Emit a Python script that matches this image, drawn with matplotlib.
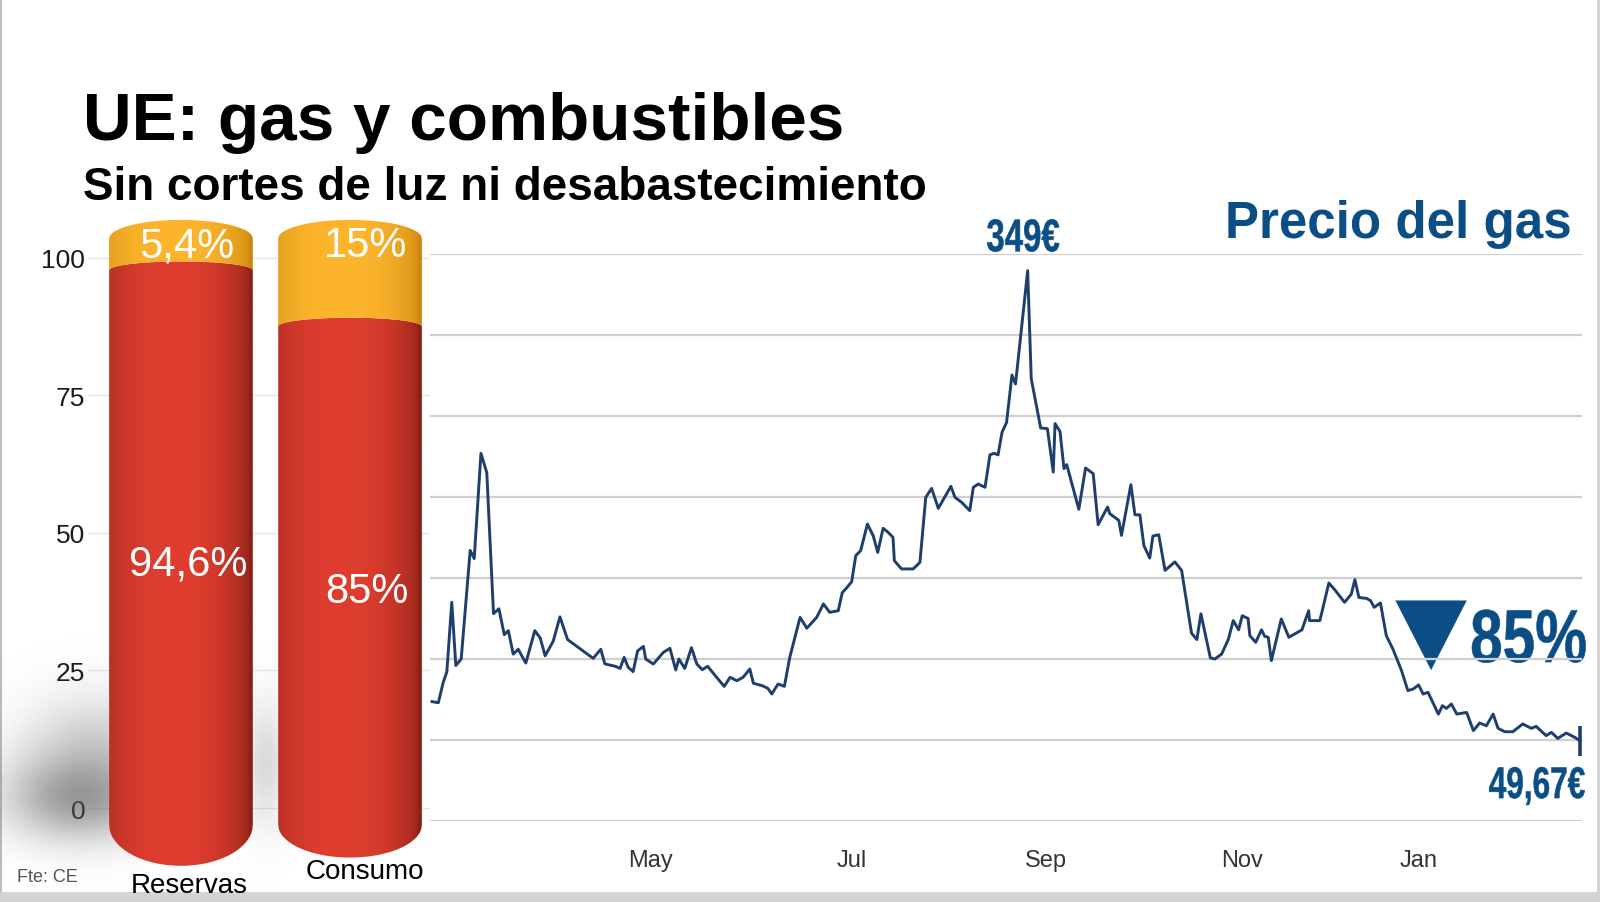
import numpy as np
import matplotlib
matplotlib.use('Agg')
import matplotlib.pyplot as plt
from matplotlib.patches import Polygon, Rectangle, PathPatch
from matplotlib.textpath import TextPath
from matplotlib.font_manager import FontProperties
from matplotlib.transforms import Affine2D, ScaledTranslation

# ── datos ────────────────────────────────────────────────────────────────
categorias = ['Reservas', 'Consumo']
parte_roja = [94.6, 85]
parte_naranja = [5.4, 15]
ticks_izq = [0, 25, 50, 75, 100]

# precio del gas (TTF, €/MWh), eje x en días de cotización
dia = [0, 1.4, 2.5, 3.3, 4.4, 5.3, 6.5, 8.5, 9.4, 10.9,
       12.2, 13.7, 14.9, 16.1, 17.0, 18.1, 19.2, 20.9, 22.9, 24.1,
       25.2, 27.0, 28.5, 30.2, 35.9, 37.6, 38.5, 40.8, 41.9, 42.8,
       43.7, 44.8, 45.8, 47.1, 47.6, 49.3, 51.5, 53.0, 54.3, 55.0,
       56.3, 57.8, 59.0, 60.2, 61.4, 63.4, 65.1, 66.4, 67.9, 69.3,
       70.8, 71.6, 73.6, 74.8, 75.7, 77.1, 78.5, 79.7, 82.0, 83.5,
       85.7, 87.2, 88.6, 90.5, 91.4, 92.4, 93.5, 94.4, 95.5, 97.0,
       98.3, 99.3, 100.5, 101.6, 102.7, 103.0, 104.6, 107.2, 108.7, 110.0,
       111.3, 112.8, 115.6, 116.5, 118.0, 119.8, 120.6, 121.7, 123.2, 124.3,
       125.2, 126.1, 127.0, 128.0, 129.2, 130.0, 132.7, 133.5, 135.6, 137.1,
       138.4, 138.8, 139.9, 140.8, 141.4, 144.1, 145.6, 147.3, 148.4, 150.5,
       151.0, 153.0, 153.6, 155.7, 156.6, 157.7, 158.6, 159.9, 160.6, 161.9,
       163.3, 165.5, 167.0, 169.2, 170.4, 171.3, 173.4, 174.4, 175.9, 177.4,
       178.5, 179.7, 180.5, 181.8, 182.2, 183.5, 184.8, 185.5, 186.3, 187.0,
       189.2, 190.9, 193.8, 195.3, 195.5, 197.8, 199.8, 201.1, 203.3, 204.8,
       205.6, 206.5, 208.2, 209.1, 209.9, 211.3, 212.6, 214.1, 216.0, 217.4,
       218.6, 219.8, 220.8, 221.9, 224.2, 225.1, 226.0, 227.1, 228.3, 230.5,
       232.0, 233.4, 234.9, 236.4, 237.5, 239.0, 240.8, 243.0, 244.9, 246.0,
       248.2, 249.4, 250.8, 252.7, 254.6, 255.7]
precio = [73.7, 73, 85.6, 92, 135, 96, 100, 167, 162, 227,
          215, 128, 131, 115, 117.5, 103, 106, 97.5, 117.5, 113,
          102, 111, 126, 112, 100.4, 106, 97, 95.5, 94.2, 101,
          94.9, 92.2, 105, 107.8, 100, 96.9, 104, 106.6, 93.2, 100,
          94.2, 107, 96.9, 93.4, 95.5, 88.7, 83.1, 88.7, 86.6, 88.7,
          93.8, 85, 83.5, 81.9, 78.4, 84.6, 83.1, 101, 125.7, 119,
          125.7, 134, 128.8, 129.8, 141, 144, 147.7, 163.8, 166.9, 183.3,
          176, 165.8, 180.7, 178.2, 175.1, 160.7, 155.6, 155.6, 159.7, 199.8,
          205.3, 193, 206.6, 199.8, 196.7, 191.6, 206, 208, 206, 226,
          227, 226, 240, 246, 275.3, 269.8, 339.7, 273, 242.6, 242.2,
          215.4, 245.3, 240.5, 217.5, 220, 192.4, 217.9, 214.4, 182.9, 193.8,
          189.7, 185.6, 176.3, 207.6, 189, 189, 170, 162.3, 175.9, 176.7,
          154.7, 159.9, 154.7, 116, 112, 127.9, 100.7, 100, 103, 112,
          123.7, 118, 126.7, 125, 114.4, 110.3, 118, 114, 113.4, 99,
          124.7, 113.4, 118, 129.8, 123.7, 123.7, 146.9, 142.8, 135, 140,
          149, 138, 137.4, 136, 131.9, 134.6, 114.4, 106, 92.8, 80.5,
          81.5, 84, 78.4, 79.4, 66, 71.2, 69.5, 72.2, 66, 67,
          55.8, 60.5, 58.8, 66, 57.2, 55.1, 55.1, 59.9, 57.2, 58.4,
          52.7, 54.7, 51, 54.3, 51.6, 49.67]
mes_pos = [48.6, 93.5, 136.7, 180.5, 219.7]
mes_txt = ['May', 'Jul', 'Sep', 'Nov', 'Jan']
etiqueta_pico = '349€'
etiqueta_caida = '85%'

# ── estilo ───────────────────────────────────────────────────────────────
SANS = ['Liberation Sans', 'DejaVu Sans']
AZUL = '#0b4e86'
LINEA = '#1e3e6c'
ROJO = ('#8a2117', '#df3e2f')
NARANJA = ('#cc860f', '#fdb62c')
ANCHO = 0.85
BASE, K = -3.0, 1.065          # perspectiva de los cilindros
ARCO_SUP, ARCO_INT = 3.4, 1.6
ARCO_INF = [-7.5, -6.0]
DX_VAL = [0.04, 0.10]          # desplazamiento de las etiquetas dentro
DX_CAT = [0.047, 0.09]
Y_CAT = [-14.0, -11.5]

plt.rcParams['font.family'] = SANS

W, H = 1600, 903
fig = plt.figure(figsize=(W / 100, H / 100), dpi=100, facecolor='#d4d4d4')
fig.patches.append(Rectangle((0.0008, 1 - 893 / H), 1596 / W, 893 / H,
                             transform=fig.transFigure, facecolor='white',
                             edgecolor='none', zorder=-10))
fig.patches.append(Rectangle((0, 1 - 893 / H), 0.0012, 893 / H,
                             transform=fig.transFigure, facecolor='#bdbdbd',
                             edgecolor='none', zorder=-9))


def texto_estrecho(ax, x, y, s, size, trans, ha='center', factor=0.72, color=AZUL):
    """Texto condensado (no hay fuente estrecha instalada): TextPath escalado."""
    fp = FontProperties(family='Liberation Sans', weight='bold')
    tp = TextPath((0, 0), s, size=size * fig.dpi / 72, prop=fp)
    ext = tp.get_extents()
    ancla = {'left': ext.x0, 'right': ext.x1, 'center': (ext.x0 + ext.x1) / 2}[ha]
    tr = (Affine2D().translate(-ancla, 0).scale(factor, 1)
          + ScaledTranslation(x, y, trans))
    p = PathPatch(tp, transform=tr, facecolor=color, edgecolor=color, lw=0.4,
                  clip_on=False)
    ax.add_artist(p)
    return p


# ── títulos ──────────────────────────────────────────────────────────────
fig.text(83 / W, 1 - 140 / H, 'UE: gas y combustibles', fontsize=48.6,
         fontweight='bold', color='black', va='baseline')
fig.text(83 / W, 1 - 200 / H, 'Sin cortes de luz ni desabastecimiento',
         fontsize=33, fontweight='bold', color='black', va='baseline')
fig.text(1572 / W, 1 - 238 / H, 'Precio del gas', fontsize=36.8,
         fontweight='bold', color=AZUL, va='baseline', ha='right')
fig.text(17 / W, 1 - 878 / H, 'Fte: CE', fontsize=13, color='#555555',
         va='center')

# ── cilindros (izquierda) ────────────────────────────────────────────────
ax1 = fig.add_axes([88 / W, 1 - 880 / H, 342 / W, 680 / H])
ax1.set_facecolor('none')
for s in ax1.spines.values():
    s.set_visible(False)


def cilindro(ax, xc, y0, y1, colores, arco0, arco1, z):
    t = np.linspace(-1, 1, 240)
    xs = xc + t * ANCHO / 2
    curva = np.sqrt(1 - t ** 2)
    abajo = y0 + arco0 * curva
    arriba = y1 + arco1 * curva
    verts = np.vstack([np.column_stack([xs, abajo]),
                       np.column_stack([xs[::-1], arriba[::-1]])])
    poly = Polygon(verts, closed=True, facecolor='none', edgecolor='none')
    ax.add_patch(poly)
    borde = np.array(matplotlib.colors.to_rgb(colores[0]))
    centro = np.array(matplotlib.colors.to_rgb(colores[1]))
    f = np.clip(1 - ((t + 0.12) / 1.08) ** 2, 0, 1) ** 0.55
    grad = borde[None, :] + (centro - borde)[None, :] * f[:, None]
    im = ax.imshow(grad[None, :, :], extent=[xs[0], xs[-1], abajo.min(), arriba.max()],
                   aspect='auto', interpolation='bilinear', zorder=z)
    im.set_clip_path(poly)


def sombra(ax, cx, cy, sx, sy, amp):
    xx, yy = np.meshgrid(np.linspace(cx - 3 * sx, cx + 3 * sx, 160),
                         np.linspace(cy - 3 * sy, cy + 3 * sy, 160))
    a = amp * np.exp(-((xx - cx) / sx) ** 2 / 2 - ((yy - cy) / sy) ** 2 / 2)
    img = np.zeros(xx.shape + (4,))
    img[..., :3] = 0.35
    img[..., 3] = a
    ax.imshow(img, extent=[cx - 3 * sx, cx + 3 * sx, cy - 3 * sy, cy + 3 * sy],
              origin='lower', aspect='auto', zorder=1, clip_on=False)


sombra(ax1, -0.6, 2, 0.3, 5.5, 0.58)
sombra(ax1, -0.5, 11, 0.3, 7, 0.27)
sombra(ax1, 0.5, 8, 0.1, 8, 0.22)

for i, cat in enumerate(categorias):
    r, n = parte_roja[i], parte_naranja[i]
    y_r = BASE + r * K
    y_t = BASE + (r + n) * K
    cilindro(ax1, i, BASE, y_r, ROJO, ARCO_INF[i], ARCO_INT, 3)
    cilindro(ax1, i, y_r, y_t, NARANJA, ARCO_INT, ARCO_SUP, 3)
    ax1.text(i + DX_VAL[i], (BASE + y_r) / 2 - 2.9,
             f'{r:g}'.replace('.', ',') + '%', color='white', fontsize=30,
             ha='center', va='center', zorder=5)
    ax1.text(i + DX_VAL[i] * 0.9, y_t - 1.2, f'{n:g}'.replace('.', ',') + '%',
             color='white', fontsize=30, ha='center', va='center', zorder=5)
    ax1.text(i + DX_CAT[i], Y_CAT[i], cat, fontsize=20, color='black',
             ha='center', va='center', clip_on=False)

ax1.set_xlim(-0.55, 1.473)
ax1.set_ylim(-12.9, 110.7)
ax1.set_xticks([])
ax1.set_yticks(ticks_izq)
ax1.set_yticklabels([str(v) for v in ticks_izq], fontsize=19, color='#1a1a1a')
ax1.tick_params(axis='y', length=0, pad=2)
ax1.yaxis.grid(True, color='#e6e6e6', lw=1)
ax1.set_axisbelow(True)

# ── precio del gas (derecha) ─────────────────────────────────────────────
ax2 = fig.add_axes([430 / W, 1 - 822 / H, 1152 / W, 567 / H])
ax2.set_facecolor('none')
for s in ax2.spines.values():
    s.set_visible(False)
ax2.plot(dia, precio, color=LINEA, lw=2.1, solid_joinstyle='round', zorder=3)
ax2.plot(dia[-1], precio[-1], marker='|', ms=22, mew=2.6, color=LINEA, zorder=3)
ax2.set_xlim(-0.45, 256.2)
ax2.set_ylim(0, 350)
ax2.set_yticks(np.arange(0, 351, 50))
ax2.set_yticklabels([])
ax2.yaxis.grid(True, color='#cfcfcf', lw=1.6)
ax2.tick_params(axis='y', length=0)
ax2.set_xticks(mes_pos)
ax2.set_xticklabels(mes_txt, fontsize=17, color='#333333')
ax2.tick_params(axis='x', length=0, pad=20)

i_max = int(np.argmax(precio))
texto_estrecho(ax2, dia[i_max] - 1, max(precio) + 12, etiqueta_pico, 33,
               ax2.transData, ha='center', factor=0.72)
texto_estrecho(ax2, dia[-1] + 1.1, precio[-1] - 35.5,
               f'{precio[-1]:.2f}'.replace('.', ',') + '€', 32,
               ax2.transData, ha='right', factor=0.71)
texto_estrecho(ax2, 0.9045, 0.2804, etiqueta_caida, 54, ax2.transAxes,
               ha='left', factor=0.78)
ax2.add_patch(Polygon([[0.838, 0.389], [0.9, 0.389], [0.869, 0.266]], closed=True,
                      transform=ax2.transAxes, facecolor=AZUL, edgecolor='none'))

fig.savefig('out.png', dpi=100, facecolor=fig.get_facecolor())
